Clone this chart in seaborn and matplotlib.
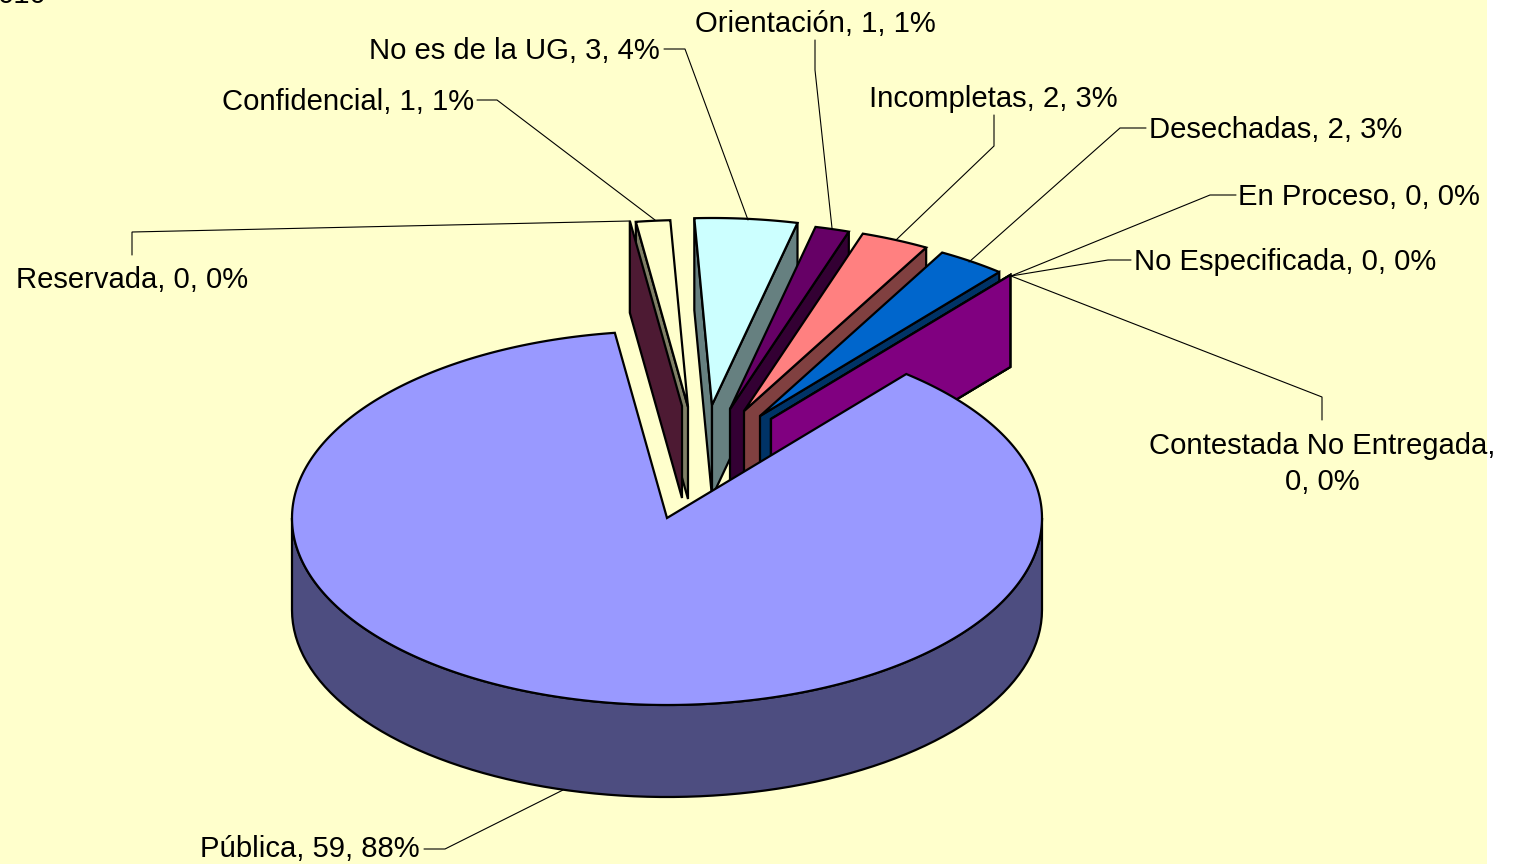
import numpy as np
import matplotlib
matplotlib.use("Agg")
import matplotlib.pyplot as plt
from matplotlib.colors import to_rgb
from matplotlib.patches import Polygon, Rectangle
import seaborn as sns

categories = ["Pública", "Reservada", "Confidencial", "No es de la UG", "Orientación",
              "Incompletas", "Desechadas", "En Proceso", "No Especificada",
              "Contestada No Entregada"]
values = [59, 0, 1, 3, 1, 2, 2, 0, 0, 0]
percents = [88, 0, 1, 4, 1, 3, 3, 0, 0, 0]
colors = ["#9999FF", "#993366", "#FFFFCC", "#CCFFFF", "#660066",
          "#FF8080", "#0066CC", "#CCCCFF", "#000080", "#FF00FF"]

BG = "#FFFFCC"
CX, CY = 667, 518
RX, RY = 375, 187
DEPTH = 92
START = 50.35
FONT = 21.1

# how far each slice is pulled out of the pie, in pixels
offsets = {
    "Pública": (0, 0),
    "Reservada": (15, -112),
    "Confidencial": (21, -111),
    "No es de la UG": (45, -113),
    "Orientación": (63, -109),
    "Incompletas": (77, -107),
    "Desechadas": (93, -102),
    "En Proceso": (104, -99),
    "No Especificada": (104, -99),
    "Contestada No Entregada": (104, -99),
}

# label anchor and leader line for each slice
labels = {
    "Pública": ((420, 849), "right", [(424, 849), (445, 849), (563, 790)]),
    "Reservada": ((132, 280), "center", [(132, 255), (132, 232), (630, 221)]),
    "Confidencial": ((474, 102), "right", [(477, 100), (497, 100), (655, 220)]),
    "No es de la UG": ((660, 51), "right", [(664, 49), (685, 49), (748, 220)]),
    "Orientación": ((815, 24), "center", [(815, 40), (815, 70), (832, 228)]),
    "Incompletas": ((993, 99), "center", [(994, 115), (994, 146), (896, 240)]),
    "Desechadas": ((1149, 130), "left", [(1146, 128), (1120, 128), (969, 262)]),
    "En Proceso": ((1238, 197), "left", [(1236, 195), (1210, 195), (1011, 276)]),
    "No Especificada": ((1134, 262), "left", [(1131, 260), (1108, 260), (1011, 276)]),
    "Contestada No Entregada": ((1322, 464), "center", [(1322, 420), (1322, 397), (1011, 276)]),
}

sns.set_theme(style="white")
plt.rcParams["font.family"] = ["Liberation Sans", "DejaVu Sans"]


def rim(a_from, a_to, off, drop=0, n=90):
    a = np.radians(np.linspace(a_from, a_to, n))
    return np.column_stack([CX + off[0] + RX * np.cos(a),
                            CY + off[1] + drop - RY * np.sin(a)])


def shade(color):
    return tuple(c * 0.5 for c in to_rgb(color))


def poly(ax, pts, color):
    ax.add_patch(Polygon(pts, closed=True, facecolor=color, edgecolor="black",
                         linewidth=1.6, joinstyle="miter"))


def side_wall(ax, angle, off, color):
    apex = np.array([CX + off[0], CY + off[1]])
    edge = rim(angle, angle, off, n=1)[0]
    down = np.array([0, DEPTH])
    poly(ax, [apex, edge, edge + down, apex + down], shade(color))


def draw_slice(ax, name, hi, lo, color):
    off = offsets[name]
    if hi > 90:
        side_wall(ax, hi, off, color)
    if lo < 90:
        side_wall(ax, lo, off, color)
    if hi > lo:
        apex = [[CX + off[0], CY + off[1]]]
        poly(ax, np.vstack([apex, rim(hi, lo, off)]), color)


# slices run clockwise from START, the way the pie was built
fractions = np.array(values) / sum(values)
ends = START - 360 * np.cumsum(fractions)
starts = np.r_[START, ends[:-1]]
spans = {n: (s, e) for n, s, e in zip(categories, starts, ends)}
color_of = dict(zip(categories, colors))

fig = plt.figure(figsize=(15.18, 8.64), dpi=100, facecolor="white")
ax = fig.add_axes([0, 0, 1, 1])
ax.set_xlim(0, 1518)
ax.set_ylim(864, 0)
ax.axis("off")
ax.add_patch(Rectangle((0, 0), 1487, 864, facecolor=BG, edgecolor="none", zorder=0))

for name, pct, val in zip(categories, percents, values):
    (tx, ty), ha, line = labels[name]
    xs, ys = zip(*line)
    ax.plot(xs, ys, color="black", lw=0.8, solid_joinstyle="miter")
    text = f"{name}, {val}, {pct}%"
    if name == "Contestada No Entregada":
        text = f"{name},\n{val}, {pct}%"
    ax.text(tx, ty, text, ha=ha, va="center", fontsize=FONT, color="black",
            linespacing=1.4, multialignment="center", zorder=5)

ax.text(-2, 3, "010", ha="left", va="baseline", fontsize=FONT, color="black")

# back to front: pulled slices first, left to right, main slice on top
order = ["Confidencial", "Reservada", "No es de la UG", "Orientación", "Incompletas",
         "Desechadas", "En Proceso", "No Especificada", "Contestada No Entregada"]
for name in order:
    s, e = spans[name]
    draw_slice(ax, name, s + 360, e + 360, color_of[name])

main_wall = np.vstack([rim(180, 360, (0, 0)), rim(360, 180, (0, 0), drop=DEPTH)])
poly(ax, main_wall, shade(color_of["Pública"]))
s, e = spans["Pública"]
poly(ax, np.vstack([[[CX, CY]], rim(s, e, (0, 0), n=360)]), color_of["Pública"])

fig.savefig("out.png", dpi=100, facecolor="white")
plt.close(fig)
